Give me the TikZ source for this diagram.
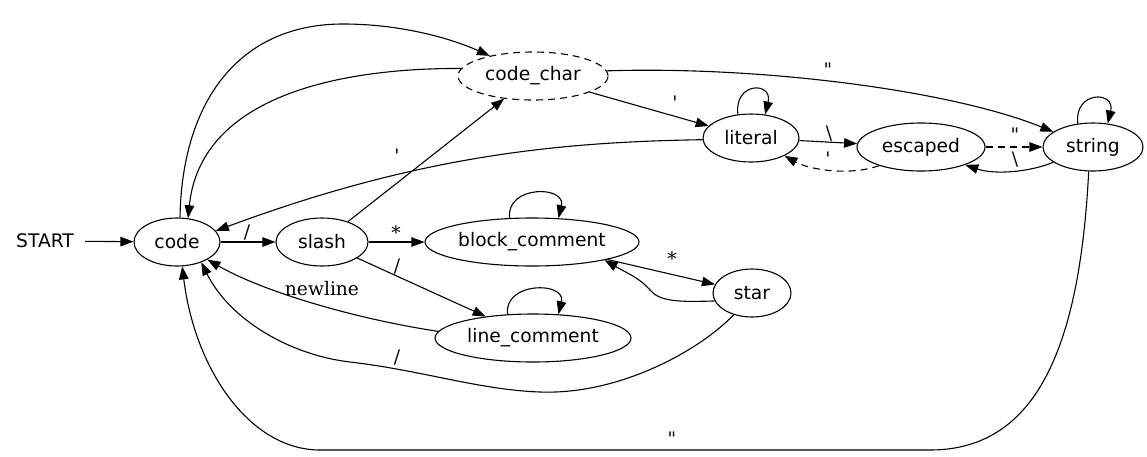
\documentclass[tikz,border=0pt]{standalone}
\usepackage{fontspec}
\usetikzlibrary{shapes.geometric,arrows.meta}
\newfontfamily\sansf{DejaVu Sans}
\newfontfamily\serf{DejaVu Serif}
\tikzset{
  st/.style={ellipse, draw, line width=1.1pt, minimum height=48pt, inner sep=0pt,
    font={\sansf\fontsize{18.67}{22}\selectfont}},
  edge/.style={-{Triangle[length=13pt,width=9.5pt]}, line width=1.1pt},
  dsh/.style={dash pattern=on 7pt off 5pt},
  lbl/.style={font={\serf\fontsize{18.67}{22}\selectfont}, anchor=base, inner sep=0pt},
}
\begin{document}
\begin{tikzpicture}[x=1pt,y=-1pt]
\useasboundingbox (0,0) rectangle (1147,456);
% nodes
\node[font={\sansf\fontsize{18.67}{22}\selectfont}, inner xsep=11pt] (start) at (45,241) {START};
\node[st, minimum width=86pt] (code) at (177,242) {code};
\node[st, minimum width=92pt] (slash) at (322,242) {slash};
\node[st, minimum width=214pt] (block_comment) at (532,242) {block\_comment};
\node[st, minimum width=150pt, dsh] (code_char) at (533,76) {code\_char};
\node[st, minimum width=96pt] (literal) at (751,138) {literal};
\node[st, minimum width=128pt] (escaped) at (921,147) {escaped};
\node[st, minimum width=100pt] (string) at (1093,147) {string};
\node[st, minimum width=78pt] (star) at (752,293) {star};
\node[st, minimum width=196pt] (line_comment) at (533,338) {line\_comment};
% edges
\draw[edge] (start) -- (code);
\draw[edge] (code) -- (slash);
\draw[edge] (code.83) .. controls (182,100) and (240,24) .. (343,24) .. controls (400,24) and (450,38) .. (code_char.155);
\draw[edge] (code_char.174) .. controls (330,68) and (200,100) .. (code.65);
\draw[edge] (slash) -- (code_char);
\draw[edge] (code_char) -- (literal);
\draw[edge] (code_char.4) .. controls (760,66) and (950,90) .. (string.159);
\draw[edge] (literal.182) .. controls (560,142) and (420,155) .. (code.16);
\draw[edge] (literal.119) .. controls +(-4,-33) and +(8,-33) .. (literal.59);
\draw[edge] (literal) -- (escaped);
\draw[edge, dsh] (escaped.204) .. controls (850,176) and (810,170) .. (literal.-28);
\draw[edge, dsh] (escaped) -- (string);
\draw[edge] (string.201) .. controls (1030,172) and (995,175) .. (escaped.-22);
\draw[edge] (string.123) .. controls +(-4,-33) and +(8,-33) .. (string.58);
\draw[edge] (string.-100) .. controls (1080,340) and (1040,450) .. (930,450) -- (320,450) .. controls (250,450) and (195,370) .. (code.-78);
\draw[edge] (slash) -- (block_comment);
\draw[edge] (slash) -- (line_comment);
\draw[edge] (block_comment.133) .. controls +(-4,-33) and +(8,-33) .. (block_comment.42);
\draw[edge] (line_comment.137) .. controls +(-4,-33) and +(8,-33) .. (line_comment.43);
\draw[edge] (block_comment) -- (star);
\draw[edge] (star.192) .. controls (680,302) and (660,302) .. (650,290) .. controls (640,278) and (625,272) .. (block_comment.-14);
\draw[edge] (line_comment.176) .. controls (350,318) and (260,290) .. (code.-30);
\draw[edge] (star.-130) .. controls (700,350) and (620,395) .. (540,392) .. controls (480,390) and (420,370) .. (350,362) .. controls (290,355) and (230,320) .. (code.-40);
% labels
\node[lbl] (l1) at (247,238) {/};
\node[lbl] (l2) at (675,109) {\symbol{39}};
\node[lbl] (l3) at (828,76) {\symbol{34}};
\node[lbl] (l4) at (397,162) {\symbol{39}};
\node[lbl] (l5) at (829,139) {\symbol{92}};
\node[lbl] (l6) at (828,165) {\symbol{39}};
\node[lbl] (l7) at (1015,141) {\symbol{34}};
\node[lbl] (l8) at (1015,165) {\symbol{92}};
\node[lbl] (l9) at (672,445) {\symbol{34}};
\node[lbl] (l10) at (396,239) {*};
\node[lbl] (l11) at (397,272) {/};
\node[lbl] (l12) at (672,265) {*};
\node[lbl] (l13) at (397,363) {/};
\node[lbl] (l14) at (322,295) {newline};
\end{tikzpicture}
\end{document}
